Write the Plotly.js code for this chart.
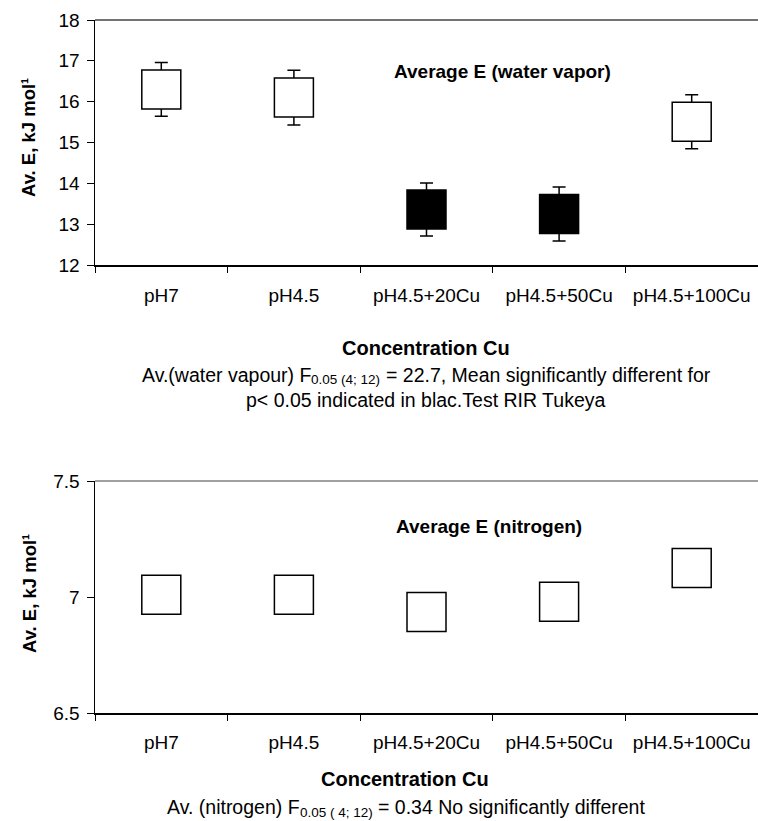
<!DOCTYPE html>
<html>
<head>
<meta charset="utf-8">
<script src="https://cdn.plot.ly/plotly-3.0.1.min.js"></script>
<style>html,body{margin:0;padding:0;background:#fff;}#chart{width:758px;height:821px;}</style>
</head>
<body>
<div id="chart"></div>
<script>
// ---- data ----
var categories = ['pH7', 'pH4.5', 'pH4.5+20Cu', 'pH4.5+50Cu', 'pH4.5+100Cu'];
var waterMean = [16.30, 16.10, 13.36, 13.25, 15.51];
var waterErr = [0.66, 0.67, 0.65, 0.66, 0.66];
var waterSignificant = [false, false, true, true, false];
var nitrogenMean = [7.01, 7.01, 6.935, 6.98, 7.125];
var waterTicks = [12, 13, 14, 15, 16, 17, 18];
var nitrogenTicks = [6.5, 7, 7.5];

var W = 758, H = 821;
var FONT = 'Liberation Sans, Arial, sans-serif';
function py(pix) { return (H - pix) / H; }
function px(pix) { return pix / W; }

var ctx = document.createElement('canvas').getContext('2d');
function tw(text, size, bold) {
  ctx.font = (bold ? 'bold ' : '') + size + 'px "Liberation Sans", Arial, sans-serif';
  return ctx.measureText(text).width;
}

var traceWater = {
  type: 'scatter', mode: 'markers', x: categories, y: waterMean,
  xaxis: 'x', yaxis: 'y',
  marker: {
    symbol: 'square', size: 39,
    color: waterSignificant.map(function (s) { return s ? '#000000' : '#ffffff'; }),
    line: { color: '#000000', width: 1.5 }
  },
  error_y: { type: 'data', array: waterErr, symmetric: true, color: '#000000', thickness: 1.5, width: 6.5 },
  showlegend: false, hoverinfo: 'x+y'
};

var traceNitrogen = {
  type: 'scatter', mode: 'markers', x: categories, y: nitrogenMean,
  xaxis: 'x2', yaxis: 'y2',
  marker: { symbol: 'square', size: 39, color: '#ffffff', line: { color: '#000000', width: 1.5 } },
  showlegend: false, hoverinfo: 'x+y'
};

var xCommon = {
  type: 'category', range: [-0.5, 4.5], fixedrange: true,
  showline: true, linecolor: '#000000', linewidth: 1.5,
  ticks: 'outside', tickson: 'boundaries', ticklen: 6, tickwidth: 1, tickcolor: '#000000',
  tickfont: { family: FONT, size: 19, color: '#000000' },
  ticklabelstandoff: 13,
  showgrid: false, zeroline: false, automargin: false
};
var yCommon = {
  showline: true, linecolor: '#000000', linewidth: 1.5,
  ticks: 'outside', ticklen: 7, tickwidth: 1, tickcolor: '#000000',
  tickfont: { family: FONT, size: 19, color: '#000000' },
  ticklabelstandoff: 3,
  showgrid: false, zeroline: false, automargin: false, fixedrange: true
};

function boldFont(size) { return { family: FONT, size: size, color: '#000000', weight: 'bold' }; }
function plainFont(size) { return { family: FONT, size: size, color: '#000000' }; }

// caption with a subscript, built from three plain texts with explicit sizes
function subCaption(before, sub, after, centerPx, yPx, size, subSize) {
  var gap = tw(' ', size);
  var w1 = tw(before, size), w2 = tw(sub, subSize), w3 = tw(after, size);
  var total = w1 + w2 + gap + w3;
  var x0 = centerPx - total / 2;
  return [
    { text: before, xref: 'paper', yref: 'paper', x: px(x0), y: py(yPx), xanchor: 'left', yanchor: 'middle', showarrow: false, font: plainFont(size), borderpad: 0 },
    { text: sub, xref: 'paper', yref: 'paper', x: px(x0 + w1), y: py(yPx + 5), xanchor: 'left', yanchor: 'middle', showarrow: false, font: plainFont(subSize), borderpad: 0 },
    { text: after, xref: 'paper', yref: 'paper', x: px(x0 + w1 + w2 + gap), y: py(yPx), xanchor: 'left', yanchor: 'middle', showarrow: false, font: plainFont(size), borderpad: 0 }
  ];
}

var annotations = [
  { text: 'Average E (water vapor)', xref: 'paper', yref: 'paper', x: px(392), y: py(72), xanchor: 'left', yanchor: 'middle', showarrow: false, font: boldFont(19) },
  { text: 'Average E (nitrogen)', xref: 'paper', yref: 'paper', x: px(394), y: py(526), xanchor: 'left', yanchor: 'middle', showarrow: false, font: boldFont(19) },
  { text: 'Av. E, kJ mol\u00B9', xref: 'paper', yref: 'paper', x: px(29), y: py(138), xanchor: 'center', yanchor: 'middle', textangle: -90, showarrow: false, font: boldFont(18.5) },
  { text: 'Av. E, kJ mol\u00B9', xref: 'paper', yref: 'paper', x: px(29), y: py(594), xanchor: 'center', yanchor: 'middle', textangle: -90, showarrow: false, font: boldFont(18.5) },
  { text: 'Concentration Cu', xref: 'paper', yref: 'paper', x: px(426), y: py(348), xanchor: 'center', yanchor: 'middle', showarrow: false, font: boldFont(20) },
  { text: 'p&lt; 0.05 indicated in blac.Test RIR Tukeya', xref: 'paper', yref: 'paper', x: px(425), y: py(400), xanchor: 'center', yanchor: 'middle', showarrow: false, font: plainFont(19.5) },
  { text: 'Concentration Cu', xref: 'paper', yref: 'paper', x: px(405), y: py(779), xanchor: 'center', yanchor: 'middle', showarrow: false, font: boldFont(20) }
].concat(
  subCaption('Av.(water vapour) F', '0.05 (4; 12)', '= 22.7, Mean significantly different for', 425, 375, 19.5, 13.5),
  subCaption('Av. (nitrogen) F', '0.05 ( 4; 12)', '= 0.34 No significantly different', 405, 807, 19.5, 13.5)
);

var layout = {
  width: W, height: H,
  margin: { l: 0, r: 0, t: 0, b: 0 },
  paper_bgcolor: '#ffffff', plot_bgcolor: '#ffffff',
  font: { family: FONT, color: '#000000' },
  xaxis: Object.assign({}, xCommon, { domain: [px(95), 1], anchor: 'y' }),
  yaxis: Object.assign({}, yCommon, {
    domain: [py(265), py(20)], anchor: 'x', range: [12, 18],
    tickvals: waterTicks, ticktext: waterTicks.map(String)
  }),
  xaxis2: Object.assign({}, xCommon, { domain: [px(95), 1], anchor: 'y2', ticklabelstandoff: 12 }),
  yaxis2: Object.assign({}, yCommon, {
    domain: [py(713), py(481)], anchor: 'x2', range: [6.5, 7.5],
    tickvals: nitrogenTicks, ticktext: nitrogenTicks.map(String)
  }),
  shapes: [
    { type: 'line', xref: 'paper', yref: 'paper', x0: px(95), x1: 1, y0: py(20), y1: py(20), line: { color: '#444444', width: 1.5 } },
    { type: 'line', xref: 'paper', yref: 'paper', x0: px(95), x1: 1, y0: py(481), y1: py(481), line: { color: '#808080', width: 1.5 } }
  ],
  annotations: annotations
};

Plotly.newPlot('chart', [traceWater, traceNitrogen], layout, { displayModeBar: false, staticPlot: true });
</script>
</body>
</html>
